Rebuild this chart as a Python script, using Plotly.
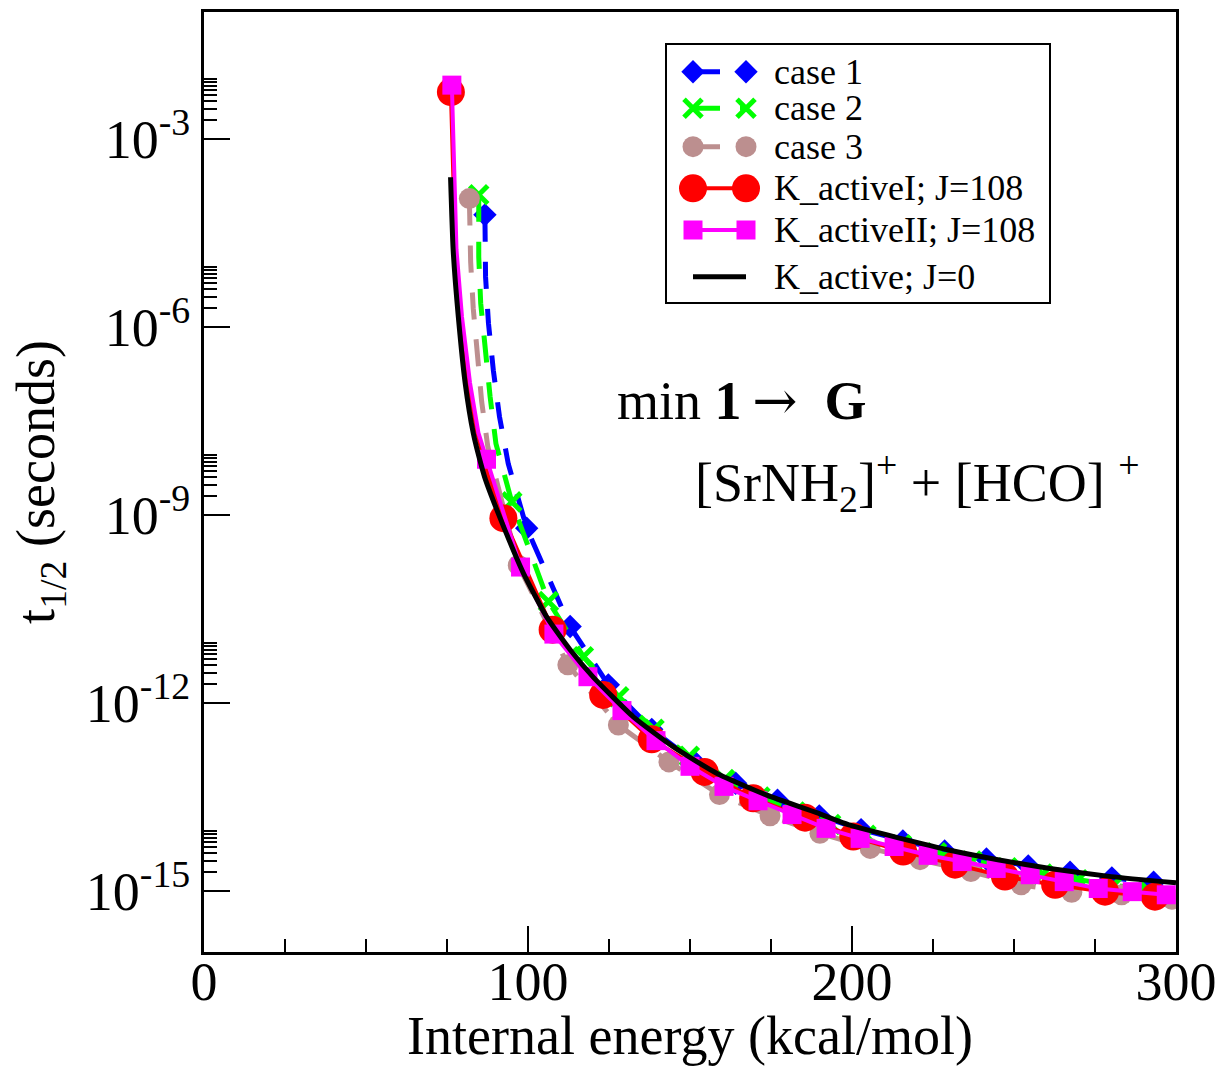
import numpy as np
import plotly.graph_objects as go

# Internal energy (kcal/mol) and log10 of the half-life t1/2 (s).
# *_E / *_logt : points carrying a symbol
# *_path_E / *_path_logt : extra points of the connecting curve (no symbol)
case1_E = [86.7, 99.6, 113.0, 124.8, 138.2, 151.2, 164.1, 177.0, 189.9, 202.8,
           215.7, 228.6, 241.5, 254.4, 267.3, 280.2, 293.1]
case1_logt = [-4.21, -9.21, -10.78, -11.71, -12.42, -12.93, -13.28, -13.55, -13.80, -14.02,
              -14.20, -14.36, -14.49, -14.60, -14.70, -14.79, -14.86]
case1_path_E = [86.9, 87.8, 89.3, 91.2, 93.9]
case1_path_logt = [-5.20, -5.94, -6.69, -7.43, -8.18]

case2_E = [84.8, 95.0, 106.3, 117.1, 128.0, 138.9, 149.8, 160.7, 171.6, 182.5,
           193.4, 204.3, 215.2, 226.1, 237.0, 247.9, 258.8, 269.7, 280.6, 291.5]
case2_logt = [-3.89, -8.79, -10.38, -11.26, -11.90, -12.42, -12.85, -13.22, -13.50, -13.74,
              -13.94, -14.11, -14.26, -14.39, -14.52, -14.63, -14.73, -14.82, -14.91, -14.99]
case2_path_E = [84.8, 85.4, 86.7, 88.3, 90.1]
case2_path_logt = [-4.88, -5.62, -6.37, -7.11, -7.86]

case3_E = [81.9, 97.0, 112.3, 127.9, 143.5, 159.1, 174.7, 190.1, 205.6, 221.0,
           236.7, 252.2, 267.8, 283.2, 298.7]
case3_logt = [-3.95, -9.80, -11.39, -12.35, -12.94, -13.46, -13.80, -14.08, -14.32, -14.50,
              -14.69, -14.90, -15.02, -15.06, -15.13]
case3_path_E = [82.3, 83.1, 84.35, 85.7, 87.6, 92.0]
case3_path_logt = [-4.96, -5.70, -6.45, -7.19, -7.91, -8.76]

kact1_E = [76.2, 92.4, 107.6, 123.2, 138.2, 154.5, 169.5, 185.5, 200.4, 215.8,
           231.8, 247.2, 262.7, 278.1, 293.5]
kact1_logt = [-2.25, -9.05, -10.83, -11.87, -12.58, -13.10, -13.52, -13.83, -14.13, -14.37,
              -14.58, -14.77, -14.90, -15.01, -15.09]
kact1_path_E = [76.5, 76.85, 77.6, 79.2, 81.5, 84.3, 87.6]
kact1_path_logt = [-2.86, -3.61, -4.77, -5.84, -6.89, -7.69, -8.36]

kact2_E = [76.5, 87.2, 97.7, 108.0, 118.5, 129.0, 139.5, 150.0, 160.5, 171.0, 181.5,
           192.0, 202.5, 213.0, 223.5, 234.0, 244.5, 255.0, 265.5, 276.0, 286.5, 297.0]
kact2_logt = [-2.14, -8.11, -9.83, -10.90, -11.58, -12.12, -12.60, -13.01, -13.33, -13.56, -13.78,
              -14.00, -14.16, -14.29, -14.43, -14.53, -14.64, -14.74, -14.85, -14.96, -15.01, -15.06]
kact2_path_E = [76.85, 77.16, 77.93, 79.63, 82.1, 84.7]
kact2_path_logt = [-2.86, -3.61, -4.77, -5.84, -6.89, -7.69]

kact0_E = [76.1, 76.9, 78.5, 80.6, 83.1, 85.7, 86.9, 92.9, 98.6, 105.8, 113.0, 120.2,
           132.5, 144.9, 158.2, 173.7, 189.1, 199.4, 215.0, 230.2, 245.0, 261.1, 280.0, 300.0]
kact0_logt = [-3.61, -4.77, -5.84, -6.89, -7.69, -8.23, -8.44, -9.24, -9.93, -10.63, -11.15, -11.59,
              -12.22, -12.70, -13.12, -13.47, -13.75, -13.95, -14.16, -14.35, -14.50, -14.64, -14.77, -14.87]

y_major_exp = [-15, -12, -9, -6, -3]
x_major = [0, 100, 200, 300]

FONT = "Liberation Serif, Times New Roman, serif"
DASH = "27px,20px"

# plot frame in page pixels (used for margins and the hand-drawn legend box)
L, R, T, B = 204, 1176, 12, 952
W, H = 1222, 1066


def sec(logs):
    return np.power(10.0, np.asarray(logs, dtype=float))


def merged(e1, l1, e2, l2):
    e = np.concatenate([e1, e2])
    lg = np.concatenate([l1, l2])
    order = np.argsort(e, kind="stable")
    return e[order], lg[order]


series = [
    dict(name="case 1", E=case1_E, logt=case1_logt, pE=case1_path_E, plog=case1_path_logt,
         line=dict(color="#0000FF", width=5, dash=DASH),
         marker=dict(symbol="diamond", size=18, color="#0000FF")),
    dict(name="case 2", E=case2_E, logt=case2_logt, pE=case2_path_E, plog=case2_path_logt,
         line=dict(color="#00FF00", width=5, dash=DASH),
         marker=dict(symbol="x-thin", size=18, color="#00FF00",
                     line=dict(color="#00FF00", width=5))),
    dict(name="case 3", E=case3_E, logt=case3_logt, pE=case3_path_E, plog=case3_path_logt,
         line=dict(color="#BC8F8F", width=5, dash=DASH),
         marker=dict(symbol="circle", size=21, color="#BC8F8F")),
    dict(name="K_activeI; J=108", E=kact1_E, logt=kact1_logt, pE=kact1_path_E, plog=kact1_path_logt,
         line=dict(color="#FF0000", width=4),
         marker=dict(symbol="circle", size=28, color="#FF0000")),
    dict(name="K_activeII; J=108", E=kact2_E, logt=kact2_logt, pE=kact2_path_E, plog=kact2_path_logt,
         line=dict(color="#FF00FF", width=4),
         marker=dict(symbol="square", size=19, color="#FF00FF")),
]

fig = go.Figure()

for s in series:
    e, lg = merged(s["E"], s["logt"], s["pE"], s["plog"])
    fig.add_trace(go.Scatter(x=e, y=sec(lg), mode="lines", line=s["line"],
                             showlegend=False, hoverinfo="skip"))
    fig.add_trace(go.Scatter(x=s["E"], y=sec(s["logt"]), mode="markers", name=s["name"],
                             marker=s["marker"], showlegend=False))

fig.add_trace(go.Scatter(
    x=kact0_E, y=sec(kact0_logt), name="K_active; J=0", mode="lines",
    line=dict(color="#000000", width=5, shape="spline", smoothing=0.5),
    showlegend=False,
))

# ---- legend drawn in page-pixel coordinates on a hidden overlay axis pair ----
legend_rows_y = [71.7, 108.3, 146.7, 188.3, 230.0, 276.7]
legend_names = [s["name"] for s in series] + ["K_active; J=0"]
sample_x = [693, 746]

for s, ry in zip(series, legend_rows_y):
    fig.add_trace(go.Scatter(x=sample_x, y=[ry, ry], xaxis="x2", yaxis="y2",
                             mode="lines+markers", line=s["line"], marker=s["marker"],
                             showlegend=False, hoverinfo="skip"))
fig.add_trace(go.Scatter(x=sample_x, y=[legend_rows_y[-1]] * 2, xaxis="x2", yaxis="y2",
                         mode="lines", line=dict(color="#000000", width=5),
                         showlegend=False, hoverinfo="skip"))

fig.add_shape(type="rect", xref="paper", yref="paper", layer="below",
              x0=(666 - L) / (R - L), x1=(1050 - L) / (R - L),
              y0=(B - 303) / (B - T), y1=(B - 44) / (B - T),
              line=dict(color="black", width=2), fillcolor="white")

for name, ry in zip(legend_names, legend_rows_y):
    fig.add_annotation(x=(773 - L) / (R - L), y=(B - ry) / (B - T), xref="paper", yref="paper",
                       xanchor="left", yanchor="middle", text=name, showarrow=False,
                       height=34, valign="middle", borderpad=0,
                       font=dict(family=FONT, size=36, color="black"))

minor_y = [m * 10.0 ** e for e in y_major_exp for m in range(2, 10)]

fig.add_annotation(
    x=(615 - L) / (R - L), y=(B - 400) / (B - T), xref="paper", yref="paper",
    xanchor="left", yanchor="middle",
    text=("min <b>1</b>\u2009<span style=\"font-family:DejaVu Serif\">\u2192</span>"
          "\u00a0 <b>G</b>"),
    showarrow=False,
    font=dict(family=FONT, size=54, color="black"),
)
fig.add_annotation(
    x=(693 - L) / (R - L), y=0.500, xref="paper", yref="paper",
    xanchor="left", yanchor="middle",
    text="[SrNH<sub>2</sub>]<sup>+</sup> + [HCO] <sup>+</sup>", showarrow=False,
    font=dict(family=FONT, size=54, color="black"),
)

fig.update_layout(
    width=W, height=H,
    margin=dict(l=L, r=W - R, t=T, b=H - B),
    plot_bgcolor="white", paper_bgcolor="white",
    font=dict(family=FONT, color="black"),
    showlegend=False,
    xaxis=dict(
        range=[0, 300], tickmode="array", tickvals=x_major, ticktext=[str(v) for v in x_major],
        ticks="inside", ticklen=26, tickwidth=2, tickcolor="black",
        minor=dict(dtick=25, ticks="inside", ticklen=13, tickwidth=2, tickcolor="black"),
        showline=True, linecolor="black", linewidth=3, mirror=True,
        showgrid=False, zeroline=False, automargin=False, ticklabelstandoff=-20,
        tickfont=dict(family=FONT, size=54, color="black"),
        title=dict(text="Internal energy (kcal/mol)", standoff=0,
                   font=dict(family=FONT, size=54, color="black")),
    ),
    yaxis=dict(
        type="log", range=[-15.973, -0.973], tickmode="array",
        tickvals=[10.0 ** e for e in y_major_exp],
        ticktext=["10<sup>%d</sup>" % e for e in y_major_exp],
        ticks="inside", ticklen=26, tickwidth=2, tickcolor="black",
        minor=dict(tickmode="array", tickvals=minor_y, ticks="inside", ticklen=13,
                   tickwidth=2, tickcolor="black"),
        showline=True, linecolor="black", linewidth=3, mirror=True,
        showgrid=False, zeroline=False, automargin=False,
        tickfont=dict(family=FONT, size=54, color="black"),
        title=dict(text="t<sub>1/2</sub> (seconds)", standoff=14,
                   font=dict(family=FONT, size=54, color="black")),
    ),
    xaxis2=dict(overlaying="x", range=[L, R], visible=False, fixedrange=True),
    yaxis2=dict(overlaying="y", range=[B, T], visible=False, fixedrange=True),
)

fig.write_html("out.html")
